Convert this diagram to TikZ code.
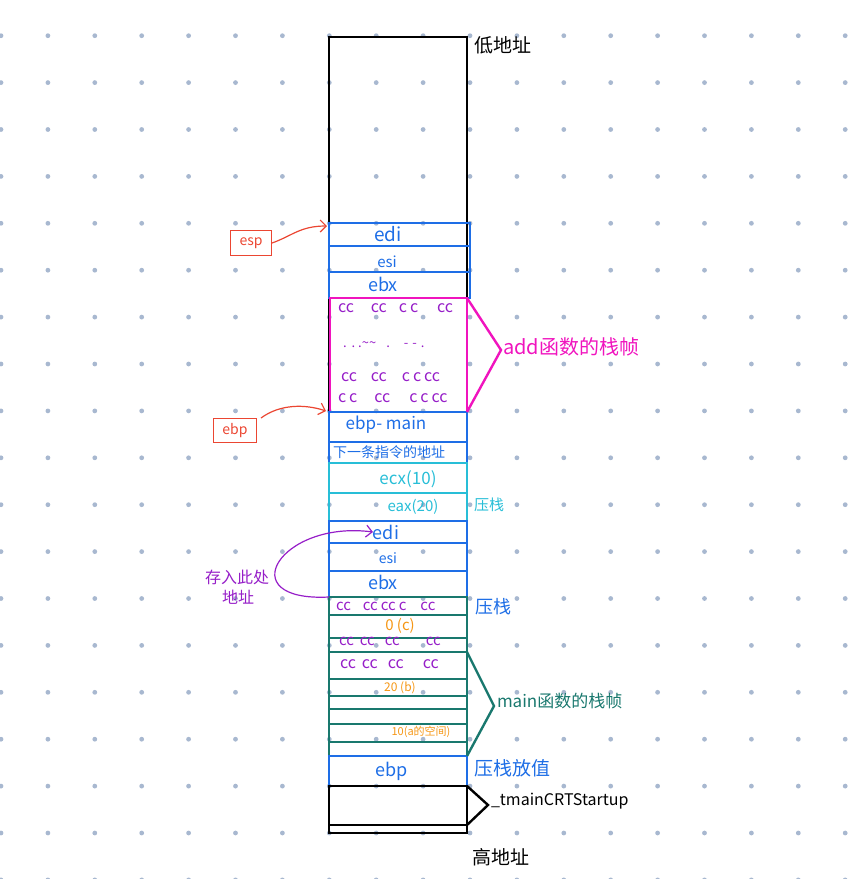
\documentclass[tikz,border=0pt]{standalone}
\usepackage{fontspec}
\setmainfont{Noto Sans CJK SC}
\usetikzlibrary{arrows.meta}
\definecolor{cblue}{RGB}{30,110,230}
\definecolor{cmag}{RGB}{240,20,190}
\definecolor{cpur}{RGB}{150,30,200}
\definecolor{ccyan}{RGB}{40,190,215}
\definecolor{cteal}{RGB}{25,120,110}
\definecolor{corg}{RGB}{245,150,20}
\definecolor{cred}{RGB}{235,70,50}
\definecolor{cdot}{RGB}{168,184,208}
\newcommand{\fs}[1]{\fontsize{#1}{#1}\selectfont}
\newcommand{\hs}[1]{\hspace{#1pt}}
\tikzset{
  cell/.style={draw, rectangle, inner sep=0pt, outer sep=0pt, anchor=north west, line width=2.8pt},
  lbl/.style={inner sep=0pt, outer sep=0pt},
  ccrow/.style={inner sep=0pt, outer sep=0pt, anchor=west, text=cpur, font=\fs{16}},
  tag/.style={draw=cred, text=cred, line width=1pt, rectangle, inner sep=0pt, anchor=north west, font=\fs{14}},
}
\begin{document}
\begin{tikzpicture}[x=1pt,y=-1pt]
\useasboundingbox (0,0) rectangle (847,879);
% dot grid
\foreach \i in {0,...,18}{
  \foreach \j in {0,...,18}{
    \fill[cdot] ({1+46.9*\i},{35.7+46.9*\j}) circle (2.4pt);
  }
}
% outer frame
\node[cell, black, line width=2.4pt, minimum width=138pt, minimum height=796pt] (outer) at (329,37) {};
% upper add part
\node[cell, cblue, minimum width=141pt, minimum height=23pt] (edi1) at (329,223) {};
\node[cell, cblue, minimum width=141pt, minimum height=26pt] (esi1) at (329,246) {};
\node[cell, cblue, minimum width=141pt, minimum height=26pt] (ebx1) at (329,272) {};
\node[cell, cmag, minimum width=137pt, minimum height=114pt] (add) at (330,298) {};
\node[cell, cblue, minimum width=138pt, minimum height=30pt] (ebpm) at (329,412) {};
\node[cell, cblue, minimum width=138pt, minimum height=21pt] (ret) at (329,442) {};
\node[cell, ccyan, minimum width=138pt, minimum height=30pt] (ecx) at (329,463) {};
\node[cell, ccyan, minimum width=138pt, minimum height=28pt] (eax) at (329,493) {};
\node[cell, cblue, minimum width=138pt, minimum height=22pt] (edi2) at (329,521) {};
\node[cell, cblue, minimum width=138pt, minimum height=28pt] (esi2) at (329,543) {};
\node[cell, cblue, minimum width=138pt, minimum height=26pt] (ebx2) at (329,571) {};
% main frame
\node[cell, cteal, minimum width=138pt, minimum height=18pt] (m1) at (329,597) {};
\node[cell, cteal, minimum width=138pt, minimum height=23pt] (m2) at (329,615) {};
\node[cell, cteal, minimum width=138pt, minimum height=14pt] (m3) at (329,638) {};
\node[cell, cteal, minimum width=138pt, minimum height=27pt] (m4) at (329,652) {};
\node[cell, cteal, minimum width=138pt, minimum height=17pt] (m5) at (329,679) {};
\node[cell, cteal, minimum width=138pt, minimum height=13pt] (m6) at (329,696) {};
\node[cell, cteal, minimum width=138pt, minimum height=15pt] (m7) at (329,709) {};
\node[cell, cteal, minimum width=138pt, minimum height=18pt] (m8) at (329,724) {};
\node[cell, cteal, minimum width=138pt, minimum height=14pt] (m9) at (329,742) {};
\node[cell, cblue, minimum width=138pt, minimum height=30pt] (ebp) at (329,756) {};
\node[cell, black, line width=2.4pt, minimum width=138pt, minimum height=39pt] (crt) at (329,786) {};
% cell texts
\node[lbl, text=cblue, font=\fs{19}] (tedi1) at (388,234) {edi};
\node[lbl, text=cblue, font=\fs{15}] (tesi1) at (387,262) {esi};
\node[lbl, text=cblue, font=\fs{18}] (tebx1) at (383,284) {ebx};
\node[ccrow] (cc1) at (338,308) {cc\hs{17}cc\hs{12}c\hs{3}c\hs{19}cc};
\node[ccrow, font=\fs{13}] (cc2) at (343,345) {.\hs{5}.\hs{3}.\textasciitilde\textasciitilde\hs{10}.\hs{14}-\hs{4}-\hs{4}.};
\node[ccrow] (cc3) at (341,377) {cc\hs{14}cc\hs{15}c\hs{3}c\hs{3}cc};
\node[ccrow] (cc4) at (338,398) {c\hs{3}c\hs{17}cc\hs{19}c\hs{3}c\hs{3}cc};
\node[lbl, text=cblue, font=\fs{17}] (tebpm) at (386,425) {ebp- main};
\node[lbl, text=cblue, font=\fs{14}, anchor=west] (tret) at (333,452) {下一条指令的地址};
\node[lbl, text=ccyan, font=\fs{17}] (tecx) at (408,479) {ecx(10)};
\node[lbl, text=ccyan, font=\fs{15}] (teax) at (413,507) {eax(20)};
\node[lbl, text=cblue, font=\fs{18}] (tedi2) at (386,532) {edi};
\node[lbl, text=cblue, font=\fs{14}] (tesi2) at (388,558) {esi};
\node[lbl, text=cblue, font=\fs{18}] (tebx2) at (383,582) {ebx};
\node[ccrow, font=\fs{15}] (cc5) at (336,606) {cc\hs{12}cc\hs{3}cc\hs{3}c\hs{14}cc};
\node[lbl, text=corg, font=\fs{15}] (tc) at (400,626) {0 (c)};
\node[ccrow, font=\fs{15}] (cc6) at (339,641) {cc\hs{6}cc\hs{10}cc\hs{26}cc};
\node[ccrow, font=\fs{16}] (cc7) at (340,664) {cc\hs{6}cc\hs{10}cc\hs{19}cc};
\node[lbl, text=corg, font=\fs{12}] (tb) at (400,688) {20 (b)};
\node[lbl, text=corg, font=\fs{11}] (ta) at (421,732) {10(a的空间)};
\node[lbl, text=cblue, font=\fs{18}] (tebp) at (392,771) {ebp};
% right side labels
\node[lbl, anchor=west, font=\fs{19}] (low) at (474,45) {低地址};
\node[lbl, anchor=west, font=\fs{19}] (high) at (472,857) {高地址};
\coordinate (addtip) at (501,350);
\draw[cmag, line width=2.4pt, line join=miter] (add.north east) -- (addtip) -- (add.south east);
\node[lbl, anchor=west, text=cmag, font=\fs{20}] (addl) at (503,347) {add函数的栈帧};
\node[lbl, anchor=west, text=ccyan, font=\fs{15}] (ya1) at (474,505) {压栈};
\node[lbl, anchor=west, text=cblue, font=\fs{18}] (ya2) at (475,607) {压栈};
\coordinate (maintip) at (494,706);
\draw[cteal, line width=2.4pt] (m4.north east) -- (maintip) -- (m9.south east);
\node[lbl, anchor=west, text=cteal, font=\fs{17}] (mainl) at (497,701) {main函数的栈帧};
\node[lbl, anchor=west, text=cblue, font=\fs{19}] (ya3) at (474,768) {压栈放值};
\coordinate (crttip) at (488,805);
\draw[black, line width=2.4pt] (crt.north east) -- (crttip) -- (crt.south east);
\node[lbl, anchor=west, font=\fs{16}] (crtl) at (491,801) {\_tmainCRTStartup};
% pointers
\node[tag, minimum width=41pt, minimum height=25pt] (esp) at (230,230) {esp};
\node[tag, minimum width=43pt, minimum height=24pt] (ebpt) at (213,418) {ebp};
\coordinate (espto) at (327,226);
\coordinate (ebpto) at (326,411);
\draw[cred, line width=1.2pt, -{Straight Barb[length=6pt]}] (esp.east) .. controls (292,236) and (300,226) .. (espto);
\draw[cred, line width=1.2pt, -{Straight Barb[length=6pt]}] ([shift={(4,0)}]ebpt.north east) .. controls (280,404) and (305,404) .. (ebpto);
% purple note
\node[lbl, text=cpur, font=\fs{16}] (note1) at (237,577) {存入此处};
\node[lbl, text=cpur, font=\fs{16}] (note2) at (238,597) {地址};
\draw[cpur, line width=1.2pt, -{Straight Barb[length=6pt]}] (ebx2.south west) .. controls (230,602) and (280,520) .. (tedi2.west);
\end{tikzpicture}
\end{document}
